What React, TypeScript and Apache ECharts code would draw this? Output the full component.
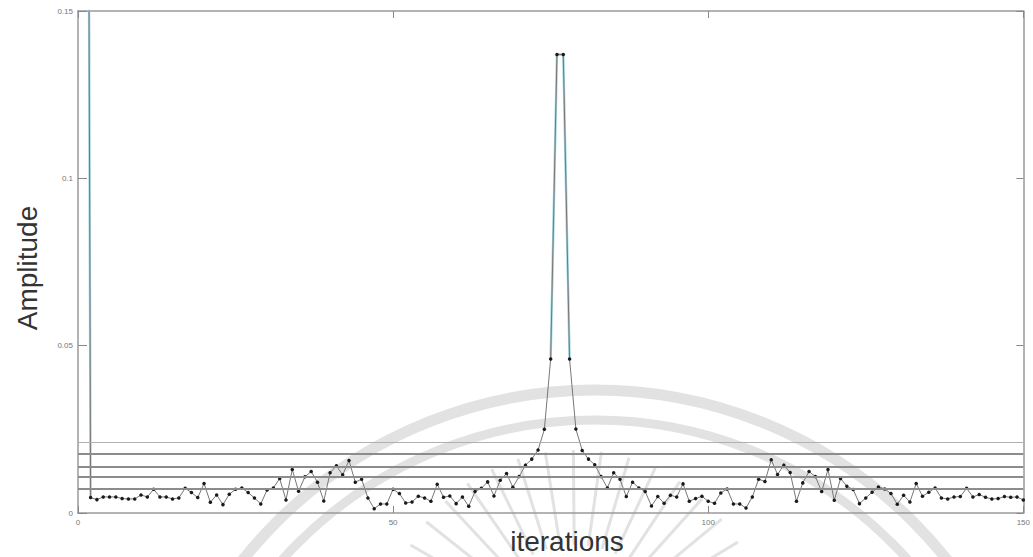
import React, { useEffect, useRef } from "react";
import * as echarts from "echarts";

// iteration index 1..150
const iterations: number[] = Array.from({ length: 150 }, (_, k) => k + 1);

// amplitude (iteration 1 runs far above the axis and is clipped)
const amplitude: number[] = [
  0.6, 0.0046, 0.004, 0.0048, 0.0048, 0.0048, 0.0043, 0.0042, 0.0042, 0.0054,
  0.0048, 0.0071, 0.0048, 0.0048, 0.0042, 0.0045, 0.0074, 0.0061, 0.0046, 0.0088,
  0.0032, 0.0054, 0.0025, 0.0056, 0.0071, 0.0075, 0.0061, 0.0045, 0.0027, 0.0069,
  0.0075, 0.0103, 0.0039, 0.013, 0.0065, 0.0108, 0.0124, 0.0092, 0.0036, 0.012,
  0.0141, 0.0114, 0.0157, 0.0092, 0.0101, 0.0045, 0.0013, 0.0027, 0.0027, 0.0071,
  0.0058, 0.003, 0.0033, 0.005, 0.0045, 0.0035, 0.0086, 0.0047, 0.0051, 0.0028,
  0.0048, 0.002, 0.0064, 0.0074, 0.0093, 0.0051, 0.0098, 0.0118, 0.0077, 0.0109,
  0.0143, 0.0161, 0.0188, 0.025, 0.046, 0.137, 0.137, 0.046, 0.0251, 0.0187,
  0.0161, 0.0144, 0.0109, 0.0075, 0.012, 0.0101, 0.0049, 0.0092, 0.0075, 0.0064,
  0.0021, 0.0049, 0.0029, 0.0053, 0.0048, 0.0087, 0.0035, 0.0043, 0.005, 0.0035,
  0.0029, 0.006, 0.0072, 0.0027, 0.0027, 0.0015, 0.0048, 0.0101, 0.0094, 0.0159,
  0.0115, 0.0143, 0.0121, 0.0035, 0.009, 0.0124, 0.0109, 0.0064, 0.013, 0.0038,
  0.0103, 0.008, 0.007, 0.0028, 0.0045, 0.0062, 0.0078, 0.0072, 0.0058, 0.0026,
  0.0053, 0.0033, 0.0088, 0.005, 0.0062, 0.0075, 0.0045, 0.0042, 0.0048, 0.0049,
  0.0074, 0.0048, 0.0055, 0.0047, 0.0042, 0.0043, 0.0049, 0.0047, 0.0048, 0.0039,
];

// horizontal reference levels
const levels: number[] = [0.0212, 0.0176, 0.0138, 0.0108, 0.0072];

// iteration ranges where the trace shows a blue fringe (steep parts)
const steepRanges: [number, number][] = [[1, 2], [75, 78]];

const xTicks = { min: 0, max: 150, interval: 50 };
const yTicks = { min: 0, max: 0.15, interval: 0.05 };

export default function App() {
  const ref = useRef<HTMLDivElement>(null);

  useEffect(() => {
    if (!ref.current) return;
    const chart = echarts.init(ref.current, undefined, { renderer: "svg" });

    const points = iterations.map((it, k) => [it, amplitude[k]]);
    const steep = iterations.map((it, k) =>
      steepRanges.some(([a, b]) => it >= a && it <= b) ? [it, amplitude[k]] : [it, null]
    );

    const axisColor = "#9a9a9a";
    const labelStyle = { fontSize: 8, color: "#777", fontFamily: "Liberation Sans, Arial, sans-serif" };

    // watermark (decoration)
    const wmColor = "#e2e2e2";
    const cx = 595, cy = 840;
    const rays: any[] = [];
    const rc = { x: 575, y: 640 };
    for (let k = 0; k < 15; k++) {
      const ang = (-150 + k * 8.5) * Math.PI / 180;
      rays.push({
        type: "line",
        silent: true,
        z: -1,
        shape: {
          x1: rc.x + Math.cos(ang) * 95,
          y1: rc.y + Math.sin(ang) * 95,
          x2: rc.x + Math.cos(ang) * 190,
          y2: rc.y + Math.sin(ang) * 190,
        },
        style: { stroke: wmColor, lineWidth: 3 },
      });
    }

    chart.setOption({
      animation: false,
      backgroundColor: "#ffffff",
      grid: { left: 78, right: 2, top: 11, bottom: 44 },
      xAxis: [
        {
          type: "value",
          ...xTicks,
          axisLine: { show: true, onZero: false, lineStyle: { color: axisColor, width: 1.5 } },
          axisTick: { show: true, inside: true, length: 7, lineStyle: { color: "#888" } },
          axisLabel: { ...labelStyle, margin: 5 },
          splitLine: { show: false },
        },
        {
          type: "value",
          position: "top",
          ...xTicks,
          axisLine: { show: true, onZero: false, lineStyle: { color: axisColor, width: 1.5 } },
          axisTick: { show: true, inside: true, length: 7, lineStyle: { color: "#888" } },
          axisLabel: { show: false },
          splitLine: { show: false },
        },
      ],
      yAxis: [
        {
          type: "value",
          ...yTicks,
          axisLine: { show: true, onZero: false, lineStyle: { color: axisColor, width: 1.5 } },
          axisTick: { show: true, inside: true, length: 9, lineStyle: { color: "#888" } },
          axisLabel: { ...labelStyle, margin: 5 },
          splitLine: { show: false },
        },
        {
          type: "value",
          position: "right",
          ...yTicks,
          axisLine: { show: true, onZero: false, lineStyle: { color: axisColor, width: 1.5 } },
          axisTick: { show: true, inside: true, length: 7, lineStyle: { color: "#888" } },
          axisLabel: { show: false },
          splitLine: { show: false },
        },
      ],
      graphic: [
        {
          type: "arc",
          silent: true,
          z: -1,
          shape: { cx, cy, r: 450, startAngle: Math.PI, endAngle: 2 * Math.PI },
          style: { stroke: wmColor, lineWidth: 11, fill: "none" },
        },
        {
          type: "arc",
          silent: true,
          z: -1,
          shape: { cx, cy, r: 420, startAngle: Math.PI, endAngle: 2 * Math.PI },
          style: { stroke: wmColor, lineWidth: 9, fill: "none" },
        },
        ...rays,
        {
          type: "text",
          silent: true,
          rotation: Math.PI / 2,
          x: 27,
          y: 268,
          style: {
            text: "Amplitude",
            fontSize: 28,
            fill: "#333",
            align: "center",
            verticalAlign: "middle",
            fontFamily: "Liberation Sans, Arial, sans-serif",
          },
        },
        {
          type: "text",
          silent: true,
          x: 567,
          y: 541,
          style: {
            text: "iterations",
            fontSize: 28,
            fill: "#333",
            align: "center",
            verticalAlign: "middle",
            fontFamily: "Liberation Sans, Arial, sans-serif",
          },
        },
      ],
      series: [
        {
          name: "steep",
          type: "line",
          data: steep,
          connectNulls: false,
          showSymbol: false,
          symbol: "none",
          silent: true,
          z: 2,
          lineStyle: { color: "#9fd3df", width: 2.4 },
        },
        {
          name: "amplitude",
          type: "line",
          data: points,
          symbol: "circle",
          symbolSize: 3.5,
          showSymbol: true,
          silent: true,
          z: 3,
          itemStyle: { color: "#1a1a1a" },
          lineStyle: { color: "#777", width: 1 },
          markLine: {
            silent: true,
            symbol: "none",
            precision: 4,
            label: { show: false },
            data: levels.map((v, k) => ({
              yAxis: v,
              lineStyle: {
                color: k === 0 ? "#b0b0b0" : "#8c8c8c",
                width: k === 0 ? 1 : 1.8,
                type: "solid",
              },
            })),
          },
        },
      ],
    });

    return () => chart.dispose();
  }, []);

  return (
    <div
      ref={ref}
      style={{ position: "absolute", left: 0, top: 0, width: 1033, height: 557 }}
    />
  );
}
